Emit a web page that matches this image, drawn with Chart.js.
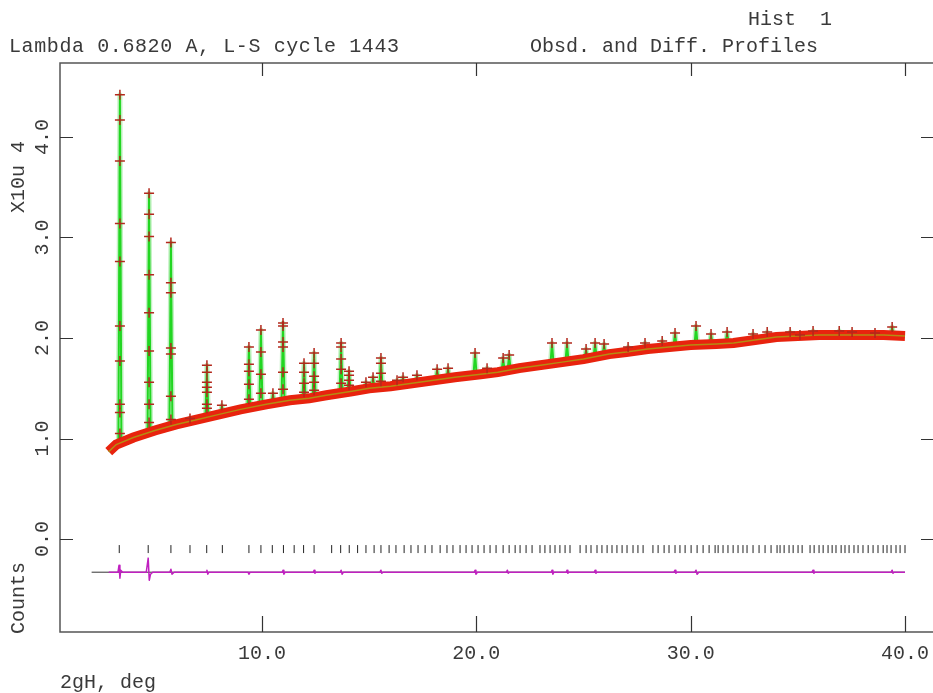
<!DOCTYPE html>
<html>
<head>
<meta charset="utf-8">
<script src="https://cdn.jsdelivr.net/npm/chart.js@4.4.0/dist/chart.umd.min.js"></script>
<style>
  html, body { margin: 0; padding: 0; background: #fff; }
  #wrap { position: relative; width: 933px; height: 693px; }
</style>
</head>
<body>
<div id="wrap"><canvas id="plot" width="933" height="693"></canvas></div>
<script>
// Observed profile background (2theta in deg, counts x10^4)
const bgX = [2.85, 3.2, 4.0, 5.0, 6.0, 7.0, 8.0, 9.0, 10.2, 11.3, 12.2, 13.0, 14.2, 15.0, 16.0, 17.0, 18.0, 19.0, 20.2, 21.0, 22.0, 23.0, 24.0, 25.0, 26.2, 27.0, 28.0, 29.0, 30.0, 31.2, 32.0, 33.0, 34.0, 35.0, 36.0, 37.0, 38.0, 39.0, 40.0];
const bgY = [0.87, 0.94, 1.01, 1.08, 1.14, 1.19, 1.24, 1.29, 1.34, 1.38, 1.40, 1.43, 1.47, 1.50, 1.52, 1.55, 1.58, 1.61, 1.64, 1.66, 1.70, 1.73, 1.76, 1.79, 1.84, 1.86, 1.89, 1.91, 1.93, 1.94, 1.95, 1.98, 2.01, 2.02, 2.03, 2.03, 2.03, 2.03, 2.02];

// Bragg peaks: position, top of the peak, background under it
const peakPos  = [3.37, 4.73, 5.75, 6.64, 7.43, 8.13, 9.39, 9.95, 10.51, 10.98, 11.96, 12.43, 13.69, 14.06, 14.85, 15.18, 15.55, 16.30, 16.58, 17.23, 18.17, 18.68, 19.94, 20.50, 21.25, 21.53, 23.53, 24.23, 25.12, 25.54, 25.96, 27.08, 27.87, 28.67, 29.27, 30.25, 30.95, 31.70, 32.91, 33.57, 34.64, 35.10, 35.71, 36.93, 37.53, 38.60, 39.40];
const peakTop  = [4.42, 3.44, 2.95, 1.20, 1.73, 1.33, 1.91, 2.08, 1.45, 2.15, 1.75, 1.85, 1.95, 1.67, 1.56, 1.61, 1.80, 1.58, 1.61, 1.63, 1.69, 1.70, 1.85, 1.70, 1.80, 1.83, 1.95, 1.95, 1.89, 1.95, 1.94, 1.91, 1.95, 1.97, 2.05, 2.12, 2.04, 2.06, 2.04, 2.06, 2.06, 2.03, 2.07, 2.07, 2.06, 2.05, 2.11];
const peakBase = [0.96, 1.06, 1.12, 1.17, 1.21, 1.25, 1.31, 1.33, 1.35, 1.37, 1.40, 1.41, 1.46, 1.47, 1.49, 1.50, 1.51, 1.53, 1.54, 1.56, 1.59, 1.60, 1.64, 1.65, 1.67, 1.68, 1.75, 1.77, 1.80, 1.81, 1.83, 1.86, 1.89, 1.90, 1.92, 1.93, 1.94, 1.95, 1.98, 2.00, 2.01, 2.02, 2.02, 2.03, 2.03, 2.03, 2.03];

// Observed points on the flanks of the strong peaks
const flankX = [3.37, 3.37, 3.37, 3.37, 3.37, 3.37, 3.37, 3.37, 3.37,
                4.73, 4.73, 4.73, 4.73, 4.73, 4.73, 4.73, 4.73,
                5.75, 5.75, 5.75, 5.75, 5.75, 5.75,
                7.43, 7.43, 7.43, 7.43, 7.43, 7.43,
                9.39, 9.39, 9.39, 9.39,
                9.95, 9.95, 9.95,
                10.98, 10.98, 10.98, 10.98, 10.98,
                11.96, 11.96, 11.96,
                12.43, 12.43, 12.43, 12.43,
                13.69, 13.69, 13.69, 13.69,
                14.06, 14.06, 14.06,
                15.55, 15.55, 15.55];
const flankY = [4.17, 3.76, 3.14, 2.76, 2.12, 1.77, 1.34, 1.26, 1.05,
                3.23, 3.01, 2.63, 2.25, 1.87, 1.56, 1.34, 1.16,
                2.55, 2.45, 1.90, 1.84, 1.42, 1.19,
                1.66, 1.56, 1.51, 1.46, 1.34, 1.30,
                1.74, 1.67, 1.54, 1.39,
                1.86, 1.64, 1.45,
                2.12, 1.96, 1.91, 1.66, 1.49,
                1.66, 1.55, 1.46,
                1.75, 1.62, 1.56, 1.48,
                1.91, 1.79, 1.69, 1.55,
                1.63, 1.58, 1.53,
                1.75, 1.65, 1.57];

// Difference curve (obs - calc), plotted with an offset
const diffX = [2.85, 3.28, 3.33, 3.37, 3.41, 3.50, 4.60, 4.69, 4.74, 4.80, 4.90, 5.70, 5.75, 5.80, 5.90,
               7.40, 7.43, 7.47, 7.52, 9.35, 9.39, 9.45, 10.95, 10.98, 11.02, 11.08, 12.40, 12.43, 12.47, 12.52,
               13.65, 13.69, 13.74, 13.80, 15.50, 15.55, 15.59, 15.64, 19.90, 19.94, 19.98, 20.05,
               21.40, 21.45, 21.49, 21.54, 23.50, 23.53, 23.57, 23.62, 24.20, 24.23, 24.27, 24.32,
               25.50, 25.54, 25.58, 25.63, 29.22, 29.27, 29.31, 29.36, 30.20, 30.25, 30.30, 30.38,
               35.66, 35.71, 35.75, 35.80, 39.35, 39.40, 39.44, 39.49, 40.0];
const diffY = [-0.33, -0.33, -0.26, -0.39, -0.31, -0.33, -0.33, -0.19, -0.41, -0.35, -0.33, -0.33, -0.30, -0.35, -0.33,
               -0.33, -0.31, -0.35, -0.33, -0.33, -0.35, -0.33, -0.33, -0.31, -0.35, -0.33, -0.33, -0.31, -0.34, -0.33,
               -0.33, -0.31, -0.35, -0.33, -0.33, -0.31, -0.34, -0.33, -0.33, -0.31, -0.35, -0.33,
               -0.33, -0.31, -0.34, -0.33, -0.33, -0.31, -0.35, -0.33, -0.33, -0.31, -0.34, -0.33,
               -0.33, -0.31, -0.34, -0.33, -0.33, -0.31, -0.34, -0.33, -0.33, -0.31, -0.35, -0.33,
               -0.33, -0.31, -0.34, -0.33, -0.33, -0.31, -0.34, -0.33, -0.33];
const diffZeroX = [2.05, 40.0];
const diffZeroY = [-0.33, -0.33];

// Reflection positions (tick row)
const hklPos = [3.34, 4.69, 5.75, 6.64, 7.42, 8.15, 9.39, 9.95, 10.48, 11.00, 11.50, 11.94, 12.43, 13.25, 13.67, 14.07, 14.46,
                14.85, 15.23, 15.55, 15.93, 16.25, 16.63, 16.95, 17.28, 17.61, 17.93, 18.31, 18.63, 18.91, 19.24, 19.52, 19.80,
                20.08, 20.36, 20.64, 20.92, 21.25, 21.53, 21.81, 22.04, 22.32, 22.60, 22.97, 23.20, 23.44, 23.67, 23.90, 24.14,
                24.37, 24.84, 25.12, 25.35, 25.63, 25.86, 26.10, 26.33, 26.56, 26.80, 27.03, 27.31, 27.54, 27.78, 28.24, 28.48,
                28.76, 28.99, 29.27, 29.50, 29.74, 30.02, 30.30, 30.58, 30.86, 31.14, 31.28, 31.51, 31.74, 31.98, 32.21, 32.44,
                32.63, 32.91, 33.19, 33.47, 33.75, 34.03, 34.17, 34.36, 34.59, 34.78, 35.01, 35.20, 35.57, 35.76, 35.99, 36.18,
                36.41, 36.60, 36.78, 37.02, 37.20, 37.39, 37.62, 37.81, 38.04, 38.28, 38.51, 38.74, 38.98, 39.16, 39.35, 39.58,
                39.77, 40.00];
const hklRow = -0.10;

const xTicks = [10, 20, 30, 40];
const xTickLabels = ['10.0', '20.0', '30.0', '40.0'];
const yTicks = [0, 1, 2, 3, 4];
const yTickLabels = ['0.0', '1.0', '2.0', '3.0', '4.0'];

const pairs = (xs, ys) => xs.map((x, i) => ({ x: x, y: ys[i] }));

// calculated profile: background plus narrow spikes at every peak
const calcPoints = pairs(bgX, bgY);
peakPos.forEach((p, i) => {
  calcPoints.push({ x: p - 0.07, y: peakBase[i] });
  calcPoints.push({ x: p, y: peakTop[i] });
  calcPoints.push({ x: p + 0.07, y: peakBase[i] });
});
calcPoints.sort((a, b) => a.x - b.x);

const FONT = '"Liberation Mono", "DejaVu Sans Mono", monospace';
const INK = '#3a3a3a';

// frame, ticks and all the text, placed with the chart's scales
const framePlugin = {
  id: 'frame',
  afterDraw(chart) {
    const ctx = chart.ctx;
    const a = chart.chartArea;
    const sx = chart.scales.x;
    const sy = chart.scales.y;
    ctx.save();
    ctx.strokeStyle = '#555';
    ctx.lineWidth = 1.5;
    ctx.beginPath();
    ctx.moveTo(a.right, a.top);
    ctx.lineTo(a.left, a.top);
    ctx.lineTo(a.left, a.bottom);
    ctx.lineTo(a.right, a.bottom);
    ctx.stroke();

    ctx.lineWidth = 1.2;
    ctx.strokeStyle = '#333';
    ctx.beginPath();
    xTicks.forEach(v => {
      const px = Math.round(sx.getPixelForValue(v)) + 0.5;
      ctx.moveTo(px, a.top); ctx.lineTo(px, a.top + 13);
      ctx.moveTo(px, a.bottom); ctx.lineTo(px, a.bottom - 16);
    });
    yTicks.forEach(v => {
      const py = Math.round(sy.getPixelForValue(v)) + 0.5;
      ctx.moveTo(a.left, py); ctx.lineTo(a.left + 13, py);
      ctx.moveTo(a.right, py); ctx.lineTo(a.right - 12, py);
    });
    ctx.stroke();

    ctx.fillStyle = INK;
    ctx.font = '20px ' + FONT;
    ctx.textBaseline = 'middle';
    ctx.textAlign = 'center';
    xTicks.forEach((v, i) => {
      ctx.fillText(xTickLabels[i], sx.getPixelForValue(v), a.bottom + 22);
    });
    yTicks.forEach((v, i) => {
      ctx.save();
      ctx.translate(43, sy.getPixelForValue(v));
      ctx.rotate(-Math.PI / 2);
      ctx.fillText(yTickLabels[i], 0, 0);
      ctx.restore();
    });
    [['X10u 4', 177], ['Counts', 598]].forEach(([s, y]) => {
      ctx.save();
      ctx.translate(19, y);
      ctx.rotate(-Math.PI / 2);
      ctx.fillText(s, 0, 0);
      ctx.restore();
    });

    ctx.textAlign = 'left';
    ctx.fillText('Hist  1', 748, 20);
    ctx.fillText('Obsd. and Diff. Profiles', 530, 47);
    ctx.fillText('2gH, deg', 60, 683);
    ctx.letterSpacing = '0.6px';
    ctx.fillText('Lambda 0.6820 A, L-S cycle 1443', 9, 47);
    ctx.restore();
  }
};

const chart = new Chart(document.getElementById('plot'), {
  type: 'scatter',
  data: {
    datasets: [
      {
        // observed points on peaks
        data: pairs(flankX, flankY).concat(pairs(peakPos, peakTop)),
        showLine: false,
        pointStyle: 'cross',
        pointRadius: 5,
        borderWidth: 1.5,
        borderColor: '#b3281c',
        order: 0
      },
      {
        // centre of the observed band
        data: pairs(bgX, bgY),
        showLine: true,
        borderColor: '#b58c12',
        borderWidth: 1.5,
        pointRadius: 0,
        order: 1
      },
      {
        // observed profile band
        data: pairs(bgX, bgY),
        showLine: true,
        borderColor: '#e8230e',
        borderWidth: 10,
        pointRadius: 0,
        order: 2
      },
      {
        // calculated profile
        data: calcPoints,
        showLine: true,
        borderColor: '#22d622',
        borderWidth: 2,
        borderJoinStyle: 'round',
        pointRadius: 0,
        order: 3
      },
      {
        // soft edge of the calculated profile
        data: calcPoints,
        showLine: true,
        borderColor: 'rgba(120, 225, 120, 0.45)',
        borderWidth: 5,
        borderJoinStyle: 'round',
        pointRadius: 0,
        order: 4
      },
      {
        // difference curve
        data: pairs(diffX, diffY),
        showLine: true,
        borderColor: '#c020c0',
        borderWidth: 1.5,
        borderJoinStyle: 'round',
        pointRadius: 0,
        order: 5
      },
      {
        data: pairs(diffZeroX, diffZeroY),
        showLine: true,
        borderColor: '#333',
        borderWidth: 1,
        pointRadius: 0,
        order: 6
      },
      {
        // reflection markers
        data: hklPos.map(p => ({ x: p, y: hklRow })),
        showLine: false,
        pointStyle: 'line',
        rotation: 90,
        pointRadius: 4,
        borderWidth: 1,
        borderColor: '#222',
        order: 7
      }
    ]
  },
  options: {
    responsive: false,
    animation: false,
    events: [],
    layout: { autoPadding: false, padding: { left: 60, top: 63, right: 0, bottom: 61 } },
    plugins: { legend: { display: false }, tooltip: { enabled: false } },
    elements: { line: { tension: 0 } },
    scales: {
      x: { type: 'linear', min: 0.575, max: 41.306, display: false },
      y: { type: 'linear', min: -0.925, max: 4.736, display: false }
    }
  },
  plugins: [framePlugin]
});
</script>
</body>
</html>
